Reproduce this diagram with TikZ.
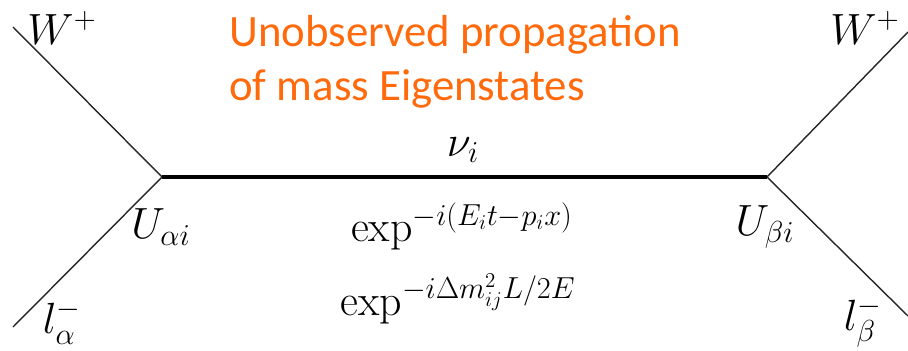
\documentclass[tikz,border=0pt]{standalone}
\usepackage{fontspec}
\newfontfamily\notefont{Carlito}
\usetikzlibrary{positioning}
\definecolor{noteorange}{RGB}{255,106,12}
\tikzset{
    lbl/.style={inner sep=0pt, font=\fontsize{25}{30}\selectfont},
    note/.style={inner sep=0pt, align=left, anchor=north west, text=noteorange, font=\notefont\fontsize{25.5}{31}\selectfont},
    leg/.style={draw, line width=0.8pt, color=black!85},
    prop/.style={draw, line width=2.2pt, color=black}
}
\begin{document}
\begin{tikzpicture}[x=0.02cm, y=-0.02cm]
    \useasboundingbox (0,0) rectangle (908,351);

    % vertices and free ends
    \coordinate (vl) at (162,177);
    \coordinate (vr) at (767,177);
    \coordinate (wl) at (13,27);
    \coordinate (ll) at (13,327);
    \coordinate (wr) at (908,32);
    \coordinate (lr) at (908,316);

    \draw [leg] (wl) -- (vl);
    \draw [leg] (ll) -- (vl);
    \draw [leg] (wr) -- (vr);
    \draw [leg] (lr) -- (vr);
    \draw [prop] (vl) -- (vr);

    \node [lbl] (wplusl) at (62,28) {$W^+$};
    \node [lbl] (wplusr) at (865,28) {$W^+$};
    \node [lbl] (lalpha) at (62,322) {$l_\alpha^-$};
    \node [lbl] (lbeta) at (863,322) {$l_\beta^-$};
    \node [lbl] (ualpha) at (161,227) {$U_{\alpha i}$};
    \node [lbl] (ubeta) at (765,227) {$U_{\beta i}$};
    \node [lbl] (nu) at (463,150) {$\nu_i$};
    \node [lbl] (phase) at (462,226) {$\exp^{-i(E_i t-p_i x)}$};
    \node [lbl] (osc) at (458,299) {$\exp^{-i\Delta m^2_{ij}L/2E}$};

    \node [note] (title) at (229,15) {Unobserved propagation\\of mass Eigenstates};
\end{tikzpicture}
\end{document}
